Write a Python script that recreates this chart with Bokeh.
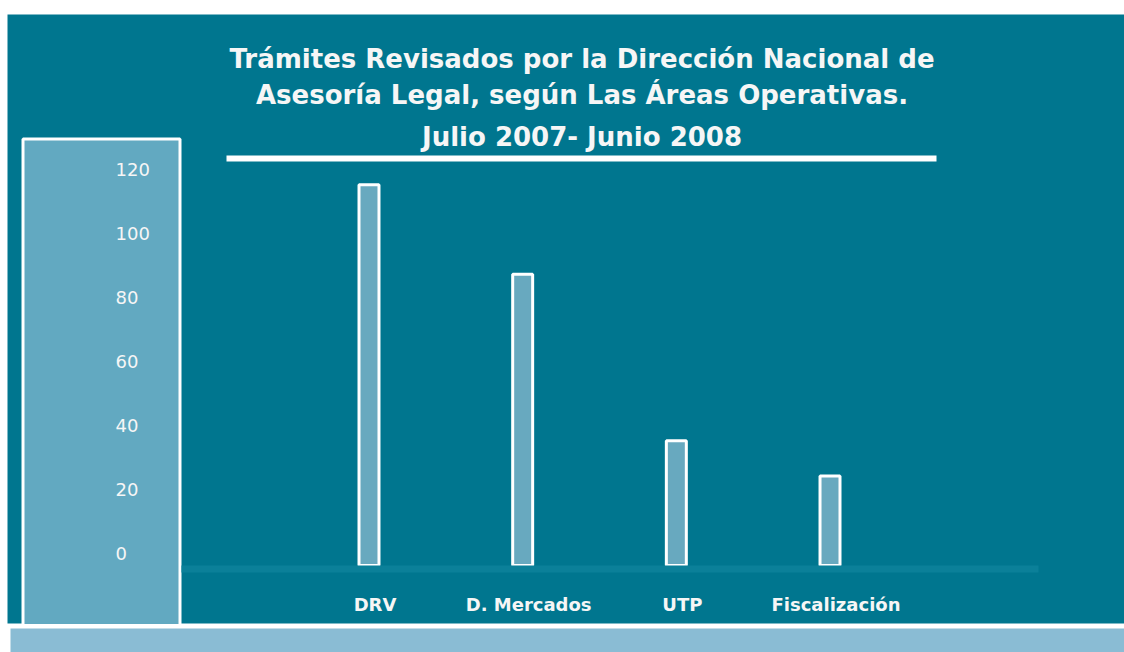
from bokeh.plotting import figure
from bokeh.models import ColumnDataSource, Range1d
from bokeh.core.properties import value
from bokeh.embed import file_html
from bokeh.resources import INLINE

# ---- data ----
categories = ["DRV", "D. Mercados", "UTP", "Fiscalización"]
tramites = [119, 91, 39, 28]
y_ticks = [0, 20, 40, 60, 80, 100, 120]
y_tick_labels = [str(t) for t in y_ticks]
title_lines = [
    "Trámites Revisados por la Dirección Nacional de",
    "Asesoría Legal, según Las Áreas Operativas.",
    "Julio 2007- Junio 2008",
]

# ---- colours ----
TEAL = "#00768F"
PANEL = "#62A9C1"
BAR_FILL = "#68A9BF"
BAND = "#8ABCD4"
BASE = "#0B8099"
TXT = "#F6F6F6"

W, H = 1124, 652
FONT = value("DejaVu Sans")

# value scale: 0 at 87px from bottom, 3.2 px per unit
y0_px, ppu = 87.0, 3.2
x0_px, pps = 368.5, 153.67

p = figure(
    width=W, height=H, output_backend="svg", toolbar_location=None,
    x_range=Range1d(-x0_px / pps, (W - x0_px) / pps),
    y_range=Range1d(-y0_px / ppu, (H - y0_px) / ppu),
    x_axis_location=None, y_axis_location=None,
    min_border=0, background_fill_color="white", border_fill_color="white",
    outline_line_color=None,
)
p.grid.visible = False
p.extra_x_ranges = {"px": Range1d(0, W)}
p.extra_y_ranges = {"px": Range1d(H, 0)}
PX = dict(x_range_name="px", y_range_name="px")

# background pieces
p.quad(left=7, right=W, top=14, bottom=623, fill_color=TEAL, line_color=None, **PX)
p.quad(left=10, right=W, top=628, bottom=H, fill_color=BAND, line_color=None, **PX)
p.quad(left=22.5, right=179.5, top=138.5, bottom=625, fill_color=PANEL,
       line_color="white", line_width=3, **PX)
p.quad(left=226, right=936, top=155, bottom=161, fill_color="white", line_color=None, **PX)

# bars
src = ColumnDataSource(dict(x=list(range(len(categories))), top=tramites, cat=categories))
p.vbar(x="x", top="top", bottom=0, width=0.13, source=src,
       fill_color=BAR_FILL, line_color="white", line_width=3)

# baseline band (covers bar bottoms)
p.quad(left=181, right=1038, top=565, bottom=572, fill_color=BASE, line_color=None, **PX)

# category labels
p.text(x="x", y=604, text="cat", source=src, y_range_name="px",
       x_offset=6, text_align="center", text_baseline="middle",
       text_font=FONT, text_font_style="bold", text_font_size="18px", text_color=TXT)

# y tick labels
tsrc = ColumnDataSource(dict(y=y_ticks, t=y_tick_labels))
p.text(x=115, y="y", text="t", source=tsrc, x_range_name="px",
       y_offset=-12, text_align="left", text_baseline="middle",
       text_font=FONT, text_font_size="18px", text_color=TXT)

# title
lsrc = ColumnDataSource(dict(y=[58, 94, 136], t=title_lines))
p.text(x=581.5, y="y", text="t", source=lsrc, **PX,
       text_align="center", text_baseline="alphabetic",
       text_font=FONT, text_font_style="bold", text_font_size="26px", text_color=TXT)

open("out.html", "w").write(file_html(p, INLINE))
